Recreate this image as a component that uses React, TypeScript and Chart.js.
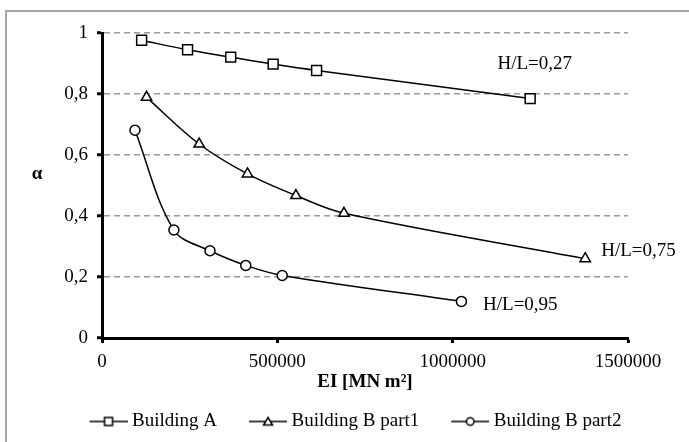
import { useEffect, useRef } from "react";
import { Chart, registerables } from "chart.js";

Chart.register(...registerables);

// ---- data ----
const seriesNames = ["Building A", "Building B part1", "Building B part2"];

const buildingA_EI = [113000, 244000, 367000, 488000, 612000, 1221000];
const buildingA_alpha = [0.976, 0.945, 0.921, 0.898, 0.877, 0.785];

const buildingB1_EI = [127000, 277000, 415000, 553000, 690000, 1378000];
const buildingB1_alpha = [0.789, 0.636, 0.538, 0.467, 0.409, 0.26];

const buildingB2_EI = [94000, 205000, 308000, 410000, 514000, 1025000];
const buildingB2_alpha = [0.681, 0.354, 0.286, 0.238, 0.205, 0.12];

const ratioLabels = ["H/L=0,27", "H/L=0,75", "H/L=0,95"];

const xTickLabels = ["0", "500000", "1000000", "1500000"];
const yTickLabels = ["0", "0,2", "0,4", "0,6", "0,8", "1"];

const xAxisTitle = "EI [MN m²]";
const yAxisTitle = "α";

// ---- styles ----
const FONT = '"Liberation Serif", "Times New Roman", serif';
const FS = 19;
const markerStyles = ["rect", "triangle", "circle"];
const markerRadii = [7, 6, 5];
// label offsets (px) from the last point of each series
const ratioOffsets = [
  [-32.7, -35],
  [16, -7.3],
  [21.6, 3.3],
];

function makeLegendIcon(shape: string): HTMLCanvasElement {
  const c = document.createElement("canvas");
  c.width = 65;
  c.height = 14;
  const g = c.getContext("2d")!;
  g.strokeStyle = "#000";
  g.lineWidth = 1.5;
  g.beginPath();
  g.moveTo(27, 7);
  g.lineTo(65, 7);
  g.stroke();
  g.fillStyle = "#fff";
  g.beginPath();
  if (shape === "rect") g.rect(42, 3, 8, 8);
  else if (shape === "triangle") {
    g.moveTo(46, 3);
    g.lineTo(50.5, 10.5);
    g.lineTo(41.5, 10.5);
    g.closePath();
  } else g.arc(46, 7, 3.8, 0, Math.PI * 2);
  g.fill();
  g.stroke();
  return c;
}

const decorPlugin = {
  id: "decor",
  beforeDraw(chart: any) {
    const ctx = chart.ctx;
    ctx.save();
    ctx.strokeStyle = "#a6a6a6";
    ctx.lineWidth = 2;
    ctx.beginPath();
    ctx.moveTo(6, chart.height + 2);
    ctx.lineTo(6, 11);
    ctx.lineTo(chart.width + 2, 11);
    ctx.stroke();
    ctx.restore();
  },
  afterDraw(chart: any) {
    const ctx = chart.ctx;
    ctx.save();
    ctx.fillStyle = "#000";
    ctx.font = `bold ${FS}px ${FONT}`;
    ctx.textAlign = "center";
    ctx.textBaseline = "middle";
    ctx.fillText(yAxisTitle, 37, 174);

    ctx.font = `${FS}px ${FONT}`;
    ctx.textAlign = "left";
    chart.data.datasets.forEach((_ds: any, i: number) => {
      const meta = chart.getDatasetMeta(i);
      const pt = meta.data[meta.data.length - 1];
      if (!pt) return;
      const [dx, dy] = ratioOffsets[i];
      ctx.fillText(ratioLabels[i], pt.x + dx, pt.y + dy);
    });
    ctx.restore();
  },
};

export default function App() {
  const ref = useRef<HTMLCanvasElement | null>(null);

  useEffect(() => {
    if (!ref.current) return;
    Chart.defaults.font.family = FONT;
    Chart.defaults.color = "#000";
    const xs = [buildingA_EI, buildingB1_EI, buildingB2_EI];
    const ys = [buildingA_alpha, buildingB1_alpha, buildingB2_alpha];
    const icons = markerStyles.map(makeLegendIcon);

    const datasets = seriesNames.map((name, i) => ({
      label: name,
      data: xs[i].map((x, j) => ({ x, y: ys[i][j] })),
      showLine: true,
      borderColor: "#000",
      borderWidth: 1.5,
      tension: 0.35,
      pointStyle: markerStyles[i] as any,
      pointRadius: markerRadii[i],
      pointHoverRadius: markerRadii[i],
      pointBackgroundColor: "#fff",
      pointBorderColor: "#000",
      pointBorderWidth: 1.5,
    }));

    const chart = new Chart(ref.current, {
      type: "scatter",
      data: { datasets },
      plugins: [decorPlugin],
      options: {
        animation: false,
        responsive: false,
        layout: { padding: { left: 0, right: 0, top: 33, bottom: 1 } },
        plugins: {
          tooltip: { enabled: false },
          legend: {
            position: "bottom",
            align: "center",
            labels: {
              usePointStyle: true,
              pointStyleWidth: 55,
              padding: 10,
              color: "#000",
              font: { size: FS, family: FONT },
              generateLabels: (c: any) =>
                c.data.datasets.map((ds: any, i: number) => ({
                  text: ds.label,
                  pointStyle: icons[i],
                  fillStyle: "#fff",
                  strokeStyle: "#000",
                  lineWidth: 0,
                  hidden: false,
                  datasetIndex: i,
                  fontColor: "#000",
                })),
            },
          },
        },
        scales: {
          x: {
            type: "linear",
            min: 0,
            max: 1500000,
            afterFit: (s: any) => {
              s.height = 64;
            },
            ticks: {
              stepSize: 500000,
              autoSkip: false,
              maxRotation: 0,
              padding: 8,
              color: "#000",
              font: { size: FS },
              callback: (v: any, i: number) => xTickLabels[i] ?? String(v),
            },
            grid: {
              drawOnChartArea: false,
              drawTicks: true,
              tickLength: 5,
              tickColor: "#000",
              tickWidth: 3,
            },
            border: { color: "#000", width: 3 },
            title: {
              display: true,
              text: xAxisTitle,
              color: "#000",
              font: { size: FS, weight: "bold" },
              padding: { top: 0, bottom: 9 },
            },
          },
          y: {
            type: "linear",
            min: 0,
            max: 1,
            afterFit: (s: any) => {
              s.width = 102;
            },
            ticks: {
              stepSize: 0.2,
              padding: 9,
              color: "#000",
              font: { size: FS },
              callback: (v: any, i: number) => yTickLabels[i] ?? String(v),
            },
            grid: {
              color: "#9a9a9a",
              lineWidth: 1.5,
              drawTicks: true,
              tickLength: 5,
              tickColor: "#000",
              tickWidth: 3,
              tickBorderDash: [],
            },
            border: { color: "#000", width: 3, dash: [6, 4] },
          },
          yRight: {
            type: "linear",
            position: "right",
            min: 0,
            max: 1,
            afterFit: (s: any) => {
              s.width = 61;
            },
            ticks: { display: false },
            grid: { display: false, drawTicks: false },
            border: { display: false },
          },
        },
      } as any,
    });
    return () => chart.destroy();
  }, []);

  return (
    <div style={{ position: "fixed", left: 0, top: 0, width: 689, height: 442, background: "#fff" }}>
      <canvas ref={ref} width={689} height={442} style={{ display: "block", width: 689, height: 442 }} />
    </div>
  );
}
